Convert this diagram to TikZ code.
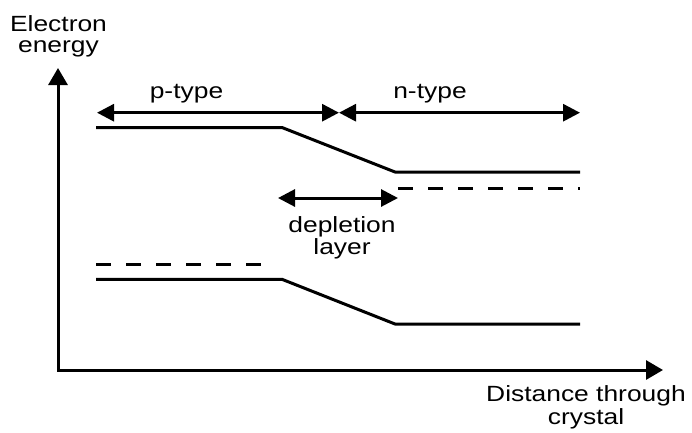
\documentclass[tikz,border=0pt]{standalone}
\usepackage{fontspec}
\usepackage{graphicx}
\setmainfont{Liberation Sans}
\usetikzlibrary{arrows.meta}

% wide sans labels, one or more centred lines
\newcommand{\widelabel}[1]{\scalebox{1.2}[1]{\begin{tabular}[t]{@{}c@{}}#1\end{tabular}}}

\begin{document}
\begin{tikzpicture}[x=1pt,y=-1pt,
  axis/.style={line width=3pt, line join=miter,
    {Triangle[length=17pt,width=19pt]}-{Triangle[length=17pt,width=19pt]}},
  band/.style={line width=3pt, line join=round},
  level/.style={line width=3pt, dash pattern=on 15pt off 15pt},
  span/.style={line width=3pt, {Triangle[length=17pt,width=17pt]}-{Triangle[length=17pt,width=17pt]}},
  lbl/.style={inner sep=0pt, anchor=base},
  lblfont/.style={font=\fontsize{22}{#1}\selectfont},
  lblfont/.default=21]
\useasboundingbox (0,0) rectangle (692,432);

% axes
\coordinate (origin) at (58,370);
\coordinate (ytop) at (58,68);
\coordinate (xend) at (663,370);
\draw[axis] (ytop) -- (origin) -- (xend);

% axis labels
\node[lbl, lblfont=20.5] (ylab) at (58.5,31.8) {\widelabel{Electron\\energy}};
\node[lbl, lblfont=21.5] (xlab) at (586,401.7) {\widelabel{Distance through\\crystal}};

% region spans
\coordinate (pL) at (97,112.7);
\coordinate (mid) at (339,112.7);
\coordinate (nR) at (580,112.7);
\draw[span] (pL) -- (mid);
\draw[span] (mid) -- (nR);
\node[lbl, lblfont] (ptype) at (186.5,98) {\widelabel{p-type}};
\node[lbl, lblfont] (ntype) at (430,98) {\widelabel{n-type}};

% conduction band
\coordinate (cb1) at (96,127.5);
\coordinate (cb2) at (282,127.5);
\coordinate (cb3) at (395,172);
\coordinate (cb4) at (580,172);
\draw[band] (cb1) -- (cb2) -- (cb3) -- (cb4);

% valence band
\coordinate (vb1) at (96,279.3);
\coordinate (vb2) at (282,279.3);
\coordinate (vb3) at (395,324);
\coordinate (vb4) at (580,324);
\draw[band] (vb1) -- (vb2) -- (vb3) -- (vb4);

% Fermi levels
\coordinate (fn1) at (398,188);
\coordinate (fn2) at (580,188);
\draw[level] (fn1) -- (fn2);
\coordinate (fp1) at (96,264);
\coordinate (fp2) at (266,264);
\draw[level] (fp1) -- (fp2);

% depletion layer
\coordinate (dL) at (278,198);
\coordinate (dR) at (398,198);
\draw[span] (dL) -- (dR);
\node[lbl, lblfont] (dep) at (342,232) {\widelabel{depletion\\layer}};
\end{tikzpicture}
\end{document}
